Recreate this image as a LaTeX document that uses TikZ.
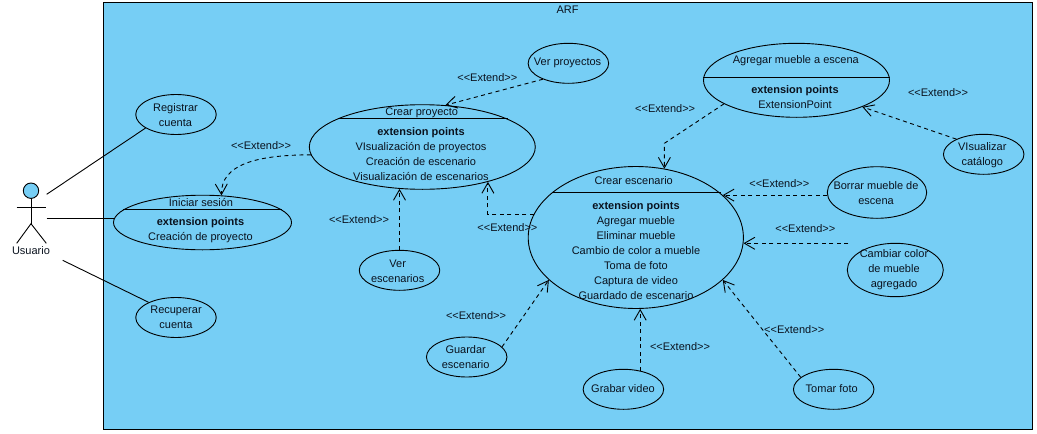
\documentclass[tikz,border=0pt]{standalone}
\usepackage{fontspec}
\setmainfont{Liberation Sans}
\usetikzlibrary{shapes.geometric}
\usetikzlibrary{arrows.meta}
\definecolor{sysblue}{RGB}{118,206,245}
\definecolor{inktext}{RGB}{10,18,30}

\begin{document}
\begin{tikzpicture}[
                x=1pt,
                y=-1pt,
                >={Straight Barb[length=10.5pt,width=12pt,line width=0.9pt]},
                line width=0.9pt,
                % Define styles for nodes
                usecase/.style={ellipse, draw=black, inner sep=0pt},
                small case/.style={usecase, minimum width=80.5pt, minimum height=40pt},
                txt/.style={align=center, inner sep=0pt, text=inktext, font=\fontsize{11}{15}\selectfont},
                extend/.style={->, dash pattern=on 4pt off 3.5pt},
                assoc/.style={draw=black}
            ]
                \useasboundingbox (0,0) rectangle (1037,434);

                % System frame
                \draw[fill=sysblue] (103.5,2.7) rectangle (1032.7,429.3);
                \node[txt] (ARF) at (567.6,10) {ARF};

                % Actor
                \draw[fill=sysblue] (31,190.7) circle (7.7);
                \draw (31,198.4) -- (31,223.7);
                \draw (16.7,207) -- (46.3,207);
                \draw (16.7,243.3) -- (31,223.7) -- (46.3,243.3);
                \node[txt] (Usuario) at (31,251) {Usuario};
                \coordinate (A1) at (46.7,194.3);
                \coordinate (A2) at (46.7,218.3);
                \coordinate (A3) at (62.7,260.3);

                % Define nodes
                \node[small case] (RC) at (176,114.5) {};
                \node[small case] (RE) at (176,317.5) {};
                \node[usecase, minimum width=178pt, minimum height=54.6pt] (IS) at (202.5,222.5) {};
                \node[usecase, minimum width=226pt, minimum height=84.6pt] (CP) at (422.3,147) {};
                \node[small case] (VE) at (399.5,270.3) {};
                \node[small case] (VP) at (568.4,63.3) {};
                \node[usecase, minimum width=186pt, minimum height=74pt] (AM) at (796.5,80.3) {};
                \node[small case] (VC) at (983.7,154.3) {};
                \node[usecase, minimum width=215.2pt, minimum height=142pt] (CE) at (635.8,237.5) {};
                \node[usecase, minimum width=99.4pt, minimum height=51.6pt] (BM) at (877,192.5) {};
                \node[usecase, minimum width=96pt, minimum height=53.4pt] (CC) at (895.3,270) {};
                \node[small case] (GE) at (466.7,357) {};
                \node[small case] (GV) at (623.4,389.3) {};
                \node[small case] (TF) at (833.7,389.3) {};
                \coordinate (CCstart) at (848.3,243.3);
                \coordinate (AMbend) at (664.4,143.3);

                % Compartment lines
                \draw (IS.171) -- (IS.9 |- IS.171);
                \draw (CP.161.7) -- (CP.18.3 |- CP.161.7);
                \draw (AM.178.2) -- (AM.1.8 |- AM.178.2);
                \draw (CE.152.4) -- (CE.27.6 |- CE.152.4);

                % Texts of the use cases
                \node[txt] (RCt) at (175.5,114.8) {Registrar\\cuenta};
                \node[txt] (REt) at (176,317.7) {Recuperar\\cuenta};
                \node[txt] (ISt) at (201,203) {Iniciar sesión};
                \node[txt] (ISb) at (200.5,229.8) {\textbf{extension points}\\Creación de proyecto};
                \node[txt] (CPt) at (421.7,112.3) {Crear proyecto};
                \node[txt] (CPb) at (421,153.8) {\textbf{extension points}\\VIsualización de proyectos\\Creación de escenario\\Visualización de escenarios};
                \node[txt] (VEt) at (397.7,270.8) {Ver\\escenarios};
                \node[txt] (VPt) at (567.6,63) {Ver proyectos};
                \node[txt] (AMt) at (795.8,60.3) {Agregar mueble a escena};
                \node[txt] (AMb) at (795,96.7) {\textbf{extension points}\\ExtensionPoint};
                \node[txt] (VCt) at (982.3,154.8) {VIsualizar\\catálogo};
                \node[txt] (CEt) at (633.7,180.3) {Crear escenario};
                \node[txt] (CEb) at (636,250.3) {\textbf{extension points}\\Agregar mueble\\Eliminar mueble\\Cambio de color a mueble\\Toma de foto\\Captura de video\\Guardado de escenario};
                \node[txt] (BMt) at (876,192.8) {Borrar mueble de\\escena};
                \node[txt] (CCt) at (894,270) {Cambiar color\\de mueble\\agregado};
                \node[txt] (GEt) at (465.7,357.5) {Guardar\\escenario};
                \node[txt] (GVt) at (623,389) {Grabar video};
                \node[txt] (TFt) at (831.7,389) {Tomar foto};

                % Draw connections of the actor
                \draw[assoc] (A1) -- (RC.204);
                \draw[assoc] (A2) -- (A2 -| IS.177.3);
                \draw[assoc] (A3) -- (RE.151.9);

                % Draw extend connections
                \draw[extend] (VP.212.3) -- (CP.61.3);
                \draw[extend] (CP.184.2) .. controls (255,155) and (221,165) .. (IS.55.4);
                \draw[extend] (VE.90) -- (VE.90 |- CP.241.5);
                \draw[extend] (CE.167.2) -| (CP.-28.1);
                \draw[extend] (AM.198) -- (AMbend) -- (AMbend |- CE.67.1);
                \draw[extend] (VC.151) -- (AM.-22.8);
                \draw[extend] (BM.183) -- (BM.183 -| CE.26);
                \draw[extend] (CCstart) -- (CCstart -| CE.-3.1);
                \draw[extend] (TF.160.4) -- (CE.-26.7);
                \draw[extend] (GV.48.6) -- (GV.48.6 |- CE.-86);
                \draw[extend] (GE.16.7) -- (CE.206.6);

                % Extend labels
                \node[txt] (L1) at (487.3,77.3) {<{}<Extend>{}>};
                \node[txt] (L2) at (261,146) {<{}<Extend>{}>};
                \node[txt] (L3) at (359,220) {<{}<Extend>{}>};
                \node[txt] (L4) at (507.4,227.3) {<{}<Extend>{}>};
                \node[txt] (L5) at (476,316) {<{}<Extend>{}>};
                \node[txt] (L6) at (665.2,108.3) {<{}<Extend>{}>};
                \node[txt] (L7) at (938,93) {<{}<Extend>{}>};
                \node[txt] (L8) at (779.3,184) {<{}<Extend>{}>};
                \node[txt] (L9) at (805.3,229) {<{}<Extend>{}>};
                \node[txt] (L10) at (794.2,329.3) {<{}<Extend>{}>};
                \node[txt] (L11) at (680,347) {<{}<Extend>{}>};
            \end{tikzpicture}
\end{document}
